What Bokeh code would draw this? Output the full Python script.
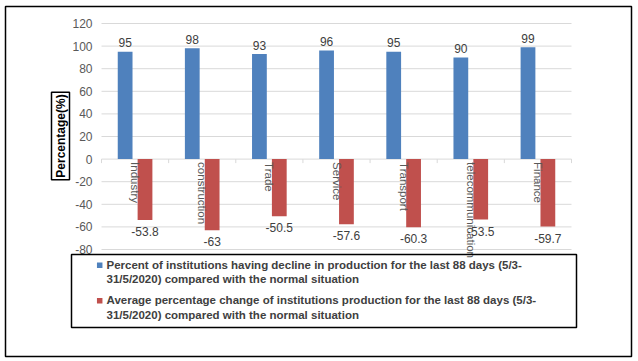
import math
from bokeh.plotting import figure
from bokeh.models import ColumnDataSource, Range1d, Label, BoxAnnotation
from bokeh.transform import dodge
from bokeh.core.properties import value
from bokeh.embed import file_html
from bokeh.resources import INLINE

categories = ["Industry", "construction", "Trade", "Service", "Transport", "telecommunication", "Finance"]
pct_decline = [95, 98, 93, 96, 95, 90, 99]
avg_change = [-53.8, -63, -50.5, -57.6, -60.3, -53.5, -59.7]
y_ticks = [-80, -60, -40, -20, 0, 20, 40, 60, 80, 100, 120]
y_tick_labels = [str(t) for t in y_ticks]
series_names = [
    "Percent of  institutions having decline in production for the last 88 days (5/3-\n31/5/2020) compared with the normal situation",
    "Average percentage change of institutions production for the last 88 days (5/3-\n31/5/2020) compared with the normal situation",
]
series_colors = ["#4F81BD", "#C0504D"]

BLUE, RED = series_colors
FONT = "Liberation Sans"
TXT = "#404040"
AXT = "#595959"
GRID = "#d9d9d9"

# ---- layout (pixels in the page) ----
W, H = 638, 361
FRAME_L, FRAME_R, FRAME_T, FRAME_B = 5, 631, 6, 356      # outer chart border
PLOT_L, PLOT_R = 101, 571                               # category axis span
Y_TOP_PX, Y_BOT_PX = 23, 249                            # y = 120 and y = -80
LEG_L, LEG_R, LEG_T, LEG_B = 71, 576, 254, 327          # legend frame
LEG_SWATCH_X, LEG_TEXT_X = 99.2, 106
LEG_ROW_PX = [264.7, 300.3]                             # first-line centres of the entries

n = len(categories)
Y_MAX, Y_MIN = max(y_ticks), min(y_ticks)
xs = (PLOT_R - PLOT_L) / n
ys = (Y_BOT_PX - Y_TOP_PX) / (Y_MAX - Y_MIN)
x_start = -(PLOT_L - FRAME_L) / xs
x_end = n + (FRAME_R - PLOT_R) / xs
y_end = Y_MAX + (Y_TOP_PX - FRAME_T) / ys
y_start = Y_MIN - (FRAME_B - Y_BOT_PX) / ys


def px2x(px):
    return x_start + (px - FRAME_L) / xs


def px2y(py):
    return y_end - (py - FRAME_T) / ys


centers = [i + 0.5 for i in range(n)]
src = ColumnDataSource(dict(
    x=centers,
    name=categories,
    zero=[0] * n,
    blue=pct_decline,
    red=avg_change,
    blue_txt=[f"{v:g}" for v in pct_decline],
    red_txt=[f"{v:g}" for v in avg_change],
))

p = figure(width=W, height=H, output_backend="svg", toolbar_location=None,
           x_range=Range1d(x_start, x_end), y_range=Range1d(y_start, y_end),
           x_axis_location=None, y_axis_location=None,
           min_border_left=FRAME_L, min_border_right=W - FRAME_R,
           min_border_top=FRAME_T, min_border_bottom=H - FRAME_B)
p.grid.visible = False
p.outline_line_color = "#000000"
p.outline_line_width = 1.5
p.outline_line_alpha = 1

# gridlines and zero axis with category boundary ticks
p.segment(x0=0, x1=n, y0=y_ticks, y1=y_ticks, line_color=GRID, line_width=1)
bounds = list(range(n + 1))
p.segment(x0=bounds, x1=bounds, y0=0, y1=-4 / ys, line_color=GRID, line_width=1)

# y tick labels
p.text(x=0, y=y_ticks, text=y_tick_labels, x_offset=-9,
       text_font=value(FONT), text_font_size="12px", text_color=AXT,
       text_align="right", text_baseline="middle")

bw = 0.22
off = 0.148
p.vbar(x=dodge("x", -off, range=p.x_range), top="blue", width=bw, bottom=0,
       source=src, fill_color=BLUE, line_color=None)
p.vbar(x=dodge("x", off, range=p.x_range), top="red", width=bw, bottom=0,
       source=src, fill_color=RED, line_color=None)

# value labels
p.text(x=dodge("x", -off, range=p.x_range), y="blue", text="blue_txt", source=src,
       text_font=value(FONT), text_font_size="12px", text_color=TXT,
       text_align="center", text_baseline="alphabetic", y_offset=-9)
p.text(x=dodge("x", off, range=p.x_range), y="red", text="red_txt", source=src,
       text_font=value(FONT), text_font_size="12px", text_color=TXT,
       text_align="center", text_baseline="top", y_offset=7)

# category names, rotated, hanging below the zero line
p.text(x="x", y="zero", text="name", source=src, angle=-math.pi / 2,
       text_font=value(FONT), text_font_size="11.5px", text_color=AXT,
       text_align="left", text_baseline="middle", y_offset=3)

# y axis title in a box
ylab = Label(x=px2x(60), y=px2y(135.5), text="Percentage(%)", angle=math.pi / 2,
             text_align="center", text_baseline="middle",
             text_font=FONT, text_font_size="12px", text_font_style="bold",
             text_color="#000000", border_line_color="#000000", border_line_width=1.5,
             background_fill_color="white", padding=2)
p.add_layout(ylab)

# legend: frame, swatches and two-line labels
box = BoxAnnotation(left=px2x(LEG_L), right=px2x(LEG_R), top=px2y(LEG_T), bottom=px2y(LEG_B),
                    fill_alpha=0, line_color="#000000", line_width=1.5, line_alpha=1)
p.add_layout(box)
leg_src = ColumnDataSource(dict(
    x=[px2x(LEG_SWATCH_X)] * 2,
    tx=[px2x(LEG_TEXT_X)] * 2,
    y=[px2y(v) for v in LEG_ROW_PX],
    label=series_names,
    color=series_colors,
))
p.scatter(x="x", y="y", source=leg_src, marker="square", size=5.5,
          fill_color="color", line_color=None)
LEG_FS = 11.5
p.text(x="tx", y="y", text="label", source=leg_src, y_offset=-(0.5 * 0.716 + 0.19) * LEG_FS,
       text_font=value(FONT), text_font_size=f"{LEG_FS}px", text_font_style="bold",
       text_color=TXT, text_align="left", text_baseline="top", text_line_height=14 / LEG_FS)

open("out.html", "w").write(file_html(p, INLINE))
